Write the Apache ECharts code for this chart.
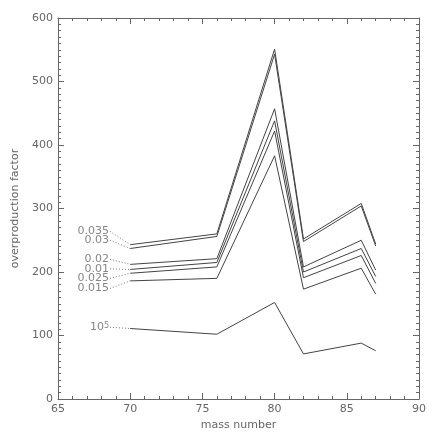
<!DOCTYPE html>
<html>
<head>
<meta charset="utf-8">
<script src="https://cdn.jsdelivr.net/npm/echarts@6/dist/echarts.min.js"></script>
<style>
  html, body { margin: 0; padding: 0; background: #fff; }
  #root { width: 436px; height: 436px; }
</style>
</head>
<body>
<div id="root"></div>
<script>
// mass numbers sampled
const massNumbers = [70, 76, 80, 82, 86, 87];

// overproduction factor per model
const series0035 = [243, 260, 551, 252, 308, 244];
const series003 = [237, 256, 543, 248, 304, 241];
const series002 = [212, 221, 457, 208, 250, 203];
const series001 = [204, 215, 438, 200, 237, 193];
const series0025 = [198, 208, 422, 191, 226, 182];
const series0015 = [186, 190, 383, 173, 206, 165];
const series1e5 = [111, 102, 152, 71, 88, 76];

const lineNames = ["0.035", "0.03", "0.02", "0.01", "0.025", "0.015", "10^5"];
const lineValues = [series0035, series003, series002, series001, series0025, series0015, series1e5];

// where each label sits (x in mass number, y in factor units)
const labelX = [68.6, 68.6, 68.6, 68.6, 68.6, 68.6, 68.6];
const labelY = [264, 250, 220, 205, 190, 174, 113];

const textColor = "#666";
const axisColor = "#666";
const lineColor = "#444";
const font = "DejaVu Sans";

const series = [];
lineValues.forEach((vals, i) => {
  series.push({
    type: "line",
    name: lineNames[i],
    data: massNumbers.map((m, k) => [m, vals[k]]),
    symbol: "none",
    lineStyle: { color: lineColor, width: 1 },
    silent: true
  });
  // dotted leader from label to start of the curve
  series.push({
    type: "line",
    data: [[labelX[i], labelY[i]], [massNumbers[0], vals[0]]],
    symbol: "none",
    lineStyle: { color: "#777", width: 1, type: [1, 2] },
    silent: true
  });
});

// label texts, drawn with an invisible scatter
series.push({
  type: "scatter",
  symbolSize: 0,
  silent: true,
  data: lineNames.map((n, i) => ({ value: [labelX[i], labelY[i]], name: n })),
  label: {
    show: true,
    position: "left",
    distance: 1,
    formatter: (p) => (p.name === "10^5" ? "{b|10}{s|5}" : p.name),
    color: textColor,
    fontFamily: font,
    fontSize: 11,
    rich: {
      b: { fontFamily: font, fontSize: 11, color: textColor },
      s: { fontFamily: font, fontSize: 8, color: textColor, verticalAlign: "top", lineHeight: 8 }
    }
  }
});

const xCommon = {
  type: "value",
  min: 65,
  max: 90,
  interval: 5,
  axisLine: { show: true, onZero: false, lineStyle: { color: axisColor, width: 1 } },
  axisTick: { show: true, inside: true, length: 6, lineStyle: { color: axisColor } },
  minorTick: { show: true, splitNumber: 5, length: 3, lineStyle: { color: axisColor } },
  splitLine: { show: false },
  minorSplitLine: { show: false }
};
const yCommon = {
  type: "value",
  min: 0,
  max: 600,
  interval: 100,
  axisLine: { show: true, onZero: false, lineStyle: { color: axisColor, width: 1 } },
  axisTick: { show: true, inside: true, length: 6, lineStyle: { color: axisColor } },
  minorTick: { show: true, splitNumber: 10, length: 3, lineStyle: { color: axisColor } },
  splitLine: { show: false },
  minorSplitLine: { show: false }
};

const chart = echarts.init(document.getElementById("root"));
chart.setOption({
  backgroundColor: "#fff",
  animation: false,
  grid: { left: 58, right: 17, top: 18, bottom: 37, containLabel: false },
  xAxis: [
    Object.assign({}, xCommon, {
      position: "bottom",
      name: "mass number",
      nameLocation: "middle",
      nameGap: 19,
      nameTextStyle: { color: textColor, fontFamily: font, fontSize: 11 },
      axisLabel: { color: textColor, fontFamily: font, fontSize: 11, margin: 5 }
    }),
    Object.assign({}, xCommon, { position: "top", axisLabel: { show: false } })
  ],
  yAxis: [
    Object.assign({}, yCommon, {
      position: "left",
      name: "overproduction factor",
      nameLocation: "middle",
      nameGap: 36,
      nameTextStyle: { color: textColor, fontFamily: font, fontSize: 11 },
      axisLabel: { color: textColor, fontFamily: font, fontSize: 11, margin: 5 }
    }),
    Object.assign({}, yCommon, { position: "right", axisLabel: { show: false } })
  ],
  series: series
});
</script>
</body>
</html>
